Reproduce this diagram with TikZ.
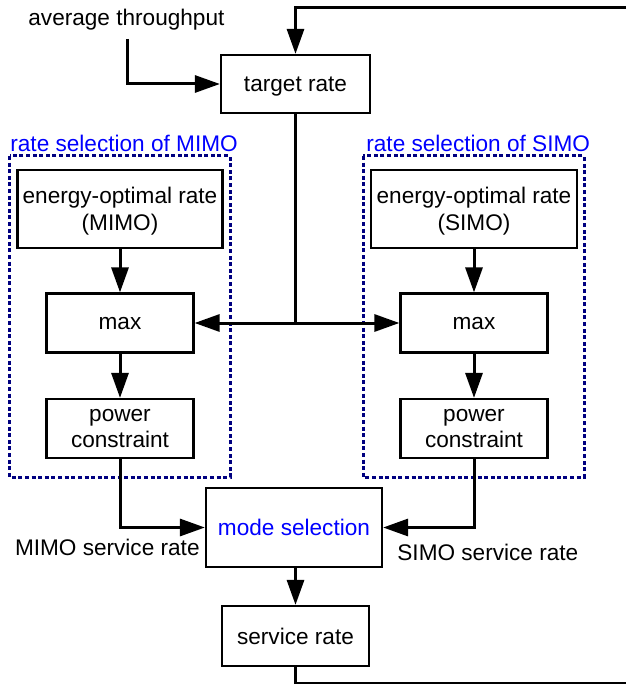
\documentclass[tikz,border=0pt]{standalone}
\usepackage{fontspec}
\setmainfont{Liberation Sans}
\usetikzlibrary{arrows.meta}
\definecolor{grpblue}{RGB}{0,0,128}
\begin{document}
\begin{tikzpicture}[x=0.5pt,y=-0.5pt,
	every node/.style={font=\fontsize{11.3}{13.4}\selectfont},
	box/.style={draw,line width=1.1pt,align=center,inner sep=0pt,text depth=0pt},
	grp/.style={draw=grpblue,line width=1.5pt,dash pattern=on 2pt off 1.3pt},
	lbl/.style={inner sep=0pt},
	wire/.style={line width=1.5pt},
	arr/.style={wire,-{Triangle[length=12.5pt,width=8.5pt]}}]
			\useasboundingbox (0,0) rectangle (626,684);
			\draw[grp] (9.5,156) rectangle (230,477) (363,156) rectangle (584,477);
			\node[lbl,anchor=west,text=blue] (tM) at (10,143) {rate selection of MIMO};
			\node[lbl,anchor=west,text=blue] (tS) at (366,143) {rate selection of SIMO};
			\node[lbl,anchor=west] (avg) at (28,20) {average throughput};
			\node[box,minimum width=74.5pt,minimum height=29pt] (target) at (295.5,84) {target rate};
			\node[box,minimum width=102.5pt,minimum height=39pt] (enM) at (120,209) {energy-optimal rate\\(MIMO)};
			\node[box,minimum width=73.5pt,minimum height=29.5pt] (maxM) at (120,323) {max};
			\node[box,minimum width=73.5pt,minimum height=29.5pt] (powM) at (120,428.5) {power\\constraint};
			\node[box,minimum width=103pt,minimum height=39pt] (enS) at (474,209) {energy-optimal rate\\(SIMO)};
			\node[box,minimum width=73.5pt,minimum height=29.5pt] (maxS) at (474,323) {max};
			\node[box,minimum width=73.5pt,minimum height=29.5pt] (powS) at (474,428.5) {power\\constraint};
			\node[box,minimum width=88pt,minimum height=39.5pt,text=blue] (mode) at (294,527.5) {mode selection};
			\node[box,minimum width=73.5pt,minimum height=30pt] (serv) at (295.5,636) {service rate};
			\node[lbl,anchor=east] (rM) at (200,547) {MIMO service rate};
			\node[lbl,anchor=west] (rS) at (397,552) {SIMO service rate};
			\coordinate (avgin) at (127,39);
			\coordinate (split) at (295.5,323);
			\coordinate (fbtop) at (626,7.5);
			\coordinate (fbbot) at (626,683);
			\draw[arr] (avgin) |- (target.west);
			\draw[arr] (fbtop) -| (target.north);
			\draw[wire] (target.south) -- (split);
			\draw[arr] (split) -- (maxM.east);
			\draw[arr] (split) -- (maxS.west);
			\draw[arr] (enM) -- (maxM);
			\draw[arr] (maxM) -- (powM);
			\draw[arr] (enS) -- (maxS);
			\draw[arr] (maxS) -- (powS);
			\draw[arr] (powM.south) |- (mode.west);
			\draw[arr] (powS.south) |- (mode.east);
			\draw[arr] (mode.south -| serv.north) -- (serv.north);
			\draw[wire] (serv.south) |- (fbbot);
\end{tikzpicture}
\end{document}
